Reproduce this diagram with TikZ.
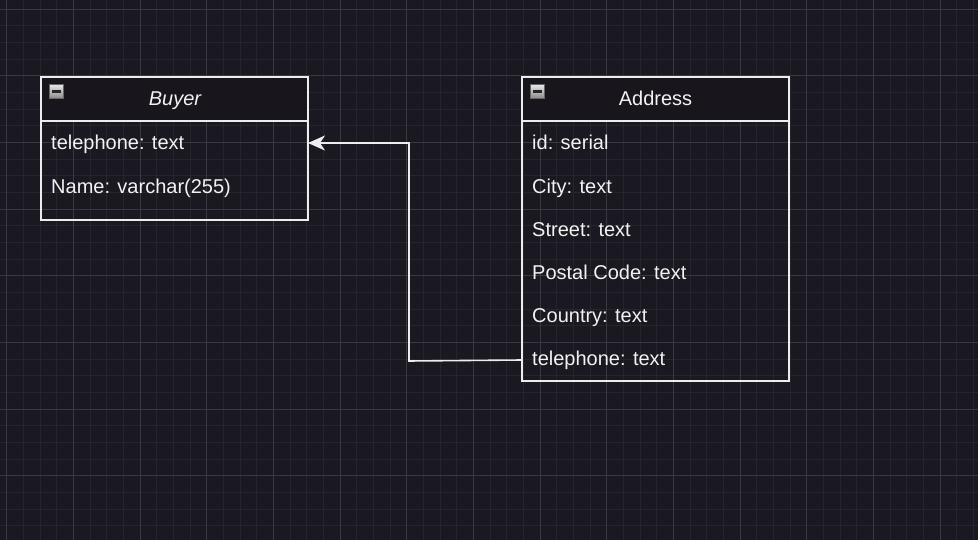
\documentclass[tikz,border=0pt]{standalone}
\usepackage{fontspec}
\setmainfont{Liberation Sans}
\usetikzlibrary{arrows.meta}
\definecolor{bgc}{HTML}{1A1820}
\definecolor{hdr}{HTML}{18151D}
\definecolor{finegrid}{HTML}{26242C}
\definecolor{majorgrid}{HTML}{3A3840}
\definecolor{edgec}{HTML}{EDEDED}
\definecolor{txtc}{HTML}{F2F2F2}
\definecolor{icontop}{HTML}{E6E6E6}
\definecolor{iconbot}{HTML}{8A8A8A}
\begin{document}
\begin{tikzpicture}[x=1pt,y=-1pt,
  tbl/.style={draw=edgec, line width=1.6pt},
  hdrtext/.style={text=txtc, font=\fontsize{20}{24}\selectfont, anchor=base, inner sep=0pt},
  rowtext/.style={text=txtc, font=\fontsize{20}{24}\selectfont, anchor=base west, inner sep=0pt},
  conn/.style={draw=edgec, line width=1.6pt},
  icon/.style={draw=black!60, line width=0.6pt, top color=icontop, bottom color=iconbot, minimum width=14pt, minimum height=14pt, inner sep=0pt}
]
\useasboundingbox (0,0) rectangle (978,540);
\fill[bgc] (0,0) rectangle (978,540);
% grid
\foreach \i in {0,...,58} {
  \draw[finegrid, line width=0.6pt] ({6.667+16.667*\i},0) -- ({6.667+16.667*\i},540);
}
\foreach \i in {0,...,32} {
  \draw[finegrid, line width=0.6pt] (0,{9+16.667*\i}) -- (978,{9+16.667*\i});
}
\foreach \i in {0,...,14} {
  \draw[majorgrid, line width=0.8pt] ({6.667+66.667*\i},0) -- ({6.667+66.667*\i},540);
}
\foreach \i in {0,...,8} {
  \draw[majorgrid, line width=0.8pt] (0,{9+66.667*\i}) -- (978,{9+66.667*\i});
}
% Buyer table
\fill[hdr] (41,77) rectangle (308,121);
\draw[tbl] (41,77) rectangle (308,220);
\draw[tbl] (41,121) -- (308,121);
\node[icon] (bicon) at (56,91.5) {};
\draw[black!85, line width=2.2pt] (51.5,91.5) -- (60.5,91.5);
\node[hdrtext, font=\fontsize{20}{24}\selectfont\itshape] (btitle) at (175,106) {Buyer};
\node[rowtext] (btel) at (51,150) {telephone: text};
\node[rowtext] (bname) at (51,194) {Name: varchar(255)};
\coordinate (bright) at (308,143);
% Address table
\fill[hdr] (522,77) rectangle (789,121);
\draw[tbl] (522,77) rectangle (789,381);
\draw[tbl] (522,121) -- (789,121);
\node[icon] (aicon) at (537,91.5) {};
\draw[black!85, line width=2.2pt] (532.5,91.5) -- (541.5,91.5);
\node[hdrtext] (atitle) at (655.5,106) {Address};
\node[rowtext] (aid) at (532,150) {id: serial};
\node[rowtext] (acity) at (532,194) {City: text};
\node[rowtext] (astreet) at (532,237) {Street: text};
\node[rowtext] (apostal) at (532,280) {Postal Code: text};
\node[rowtext] (acountry) at (532,323) {Country: text};
\node[rowtext] (atel) at (532,366) {telephone: text};
\coordinate (aleft) at (522,360);
% connector
\draw[conn, -{Stealth[length=17pt, width=15pt, inset=5pt]}] (aleft) -- (409,361) -- (409,143) -- (bright);
\end{tikzpicture}
\end{document}
